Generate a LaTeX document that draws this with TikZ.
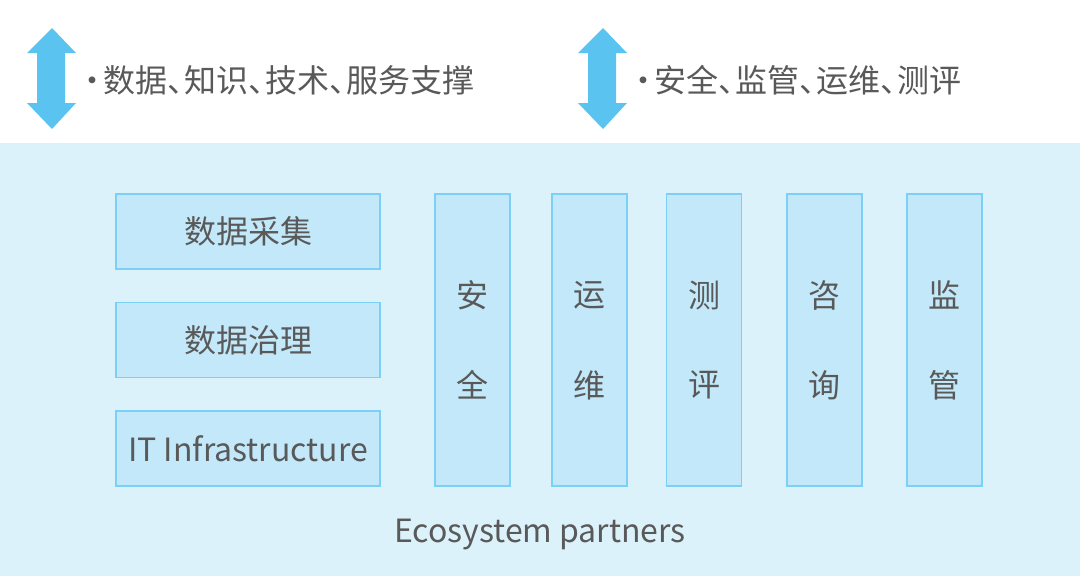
\documentclass[tikz,border=0pt]{standalone}
\usepackage{fontspec}
\setmainfont{Noto Sans CJK SC}
\newcommand\dun{、\kern-0.47em}
\newcommand\mdot{·\kern-5pt}
\definecolor{bandbg}{HTML}{DCF2FB}
\definecolor{boxfill}{HTML}{C2E8F9}
\definecolor{boxline}{HTML}{7DD0F5}
\definecolor{arrowblue}{HTML}{5BC3F0}
\definecolor{txt}{HTML}{595959}
\begin{document}
\begin{tikzpicture}[x=1pt,y=-1pt,
  box/.style={draw=boxline, fill=boxfill, line width=1.4pt, inner sep=0pt, text=txt,
    font=\fontsize{32}{38}\selectfont},
  hbox/.style={box, minimum width=264pt, minimum height=75pt},
  vbox/.style={box, minimum width=75pt, minimum height=292pt, align=center},
  lbl/.style={text=txt, font=\fontsize{32}{38}\selectfont, inner sep=0pt},
  bigarrow/.style={fill=arrowblue, draw=none}]
\useasboundingbox (0,0) rectangle (1080,576);
\fill[white] (0,0) rectangle (1080,143);
\fill[bandbg] (0,143) rectangle (1080,576);
% arrows
\foreach \ax in {0,551}{
  \fill[arrowblue] (\ax+52,28) -- (\ax+76,53) -- (\ax+65,53) -- (\ax+65,103) -- (\ax+76,103)
    -- (\ax+52,129) -- (\ax+27,103) -- (\ax+37,103) -- (\ax+37,53) -- (\ax+27,53) -- cycle;
}
\node[lbl, anchor=west] (t1) at (76,80) {\mdot 数据\dun 知识\dun 技术\dun 服务支撑};
\node[lbl, anchor=west] (t2) at (627,80) {\mdot 安全\dun 监管\dun 运维\dun 测评};
% left boxes
\node[hbox] (b1) at (248,231.5) {数据采集};
\node[hbox] (b2) at (248,340) {数据治理};
\node[hbox] (b3) at (248,448.5) {IT Infrastructure};
% vertical boxes
\node[vbox] (v1) at (472.5,340) {};
\node[vbox] (v2) at (589.5,340) {};
\node[vbox] (v3) at (704,340) {};
\node[vbox] (v4) at (824.5,340) {};
\node[vbox] (v5) at (944.5,340) {};
\foreach \n/\a/\b in {v1/安/全, v2/运/维, v3/测/评, v4/咨/询, v5/监/管}{
  \node[text=txt, font=\fontsize{32}{38}\selectfont, inner sep=0pt] (\n a) at ([yshift=45pt]\n.center) {\a};
  \node[text=txt, font=\fontsize{32}{38}\selectfont, inner sep=0pt] (\n b) at ([yshift=-45pt]\n.center) {\b};
}
\node[lbl] (eco) at (540,535) {Ecosystem partners};
\end{tikzpicture}
\end{document}
